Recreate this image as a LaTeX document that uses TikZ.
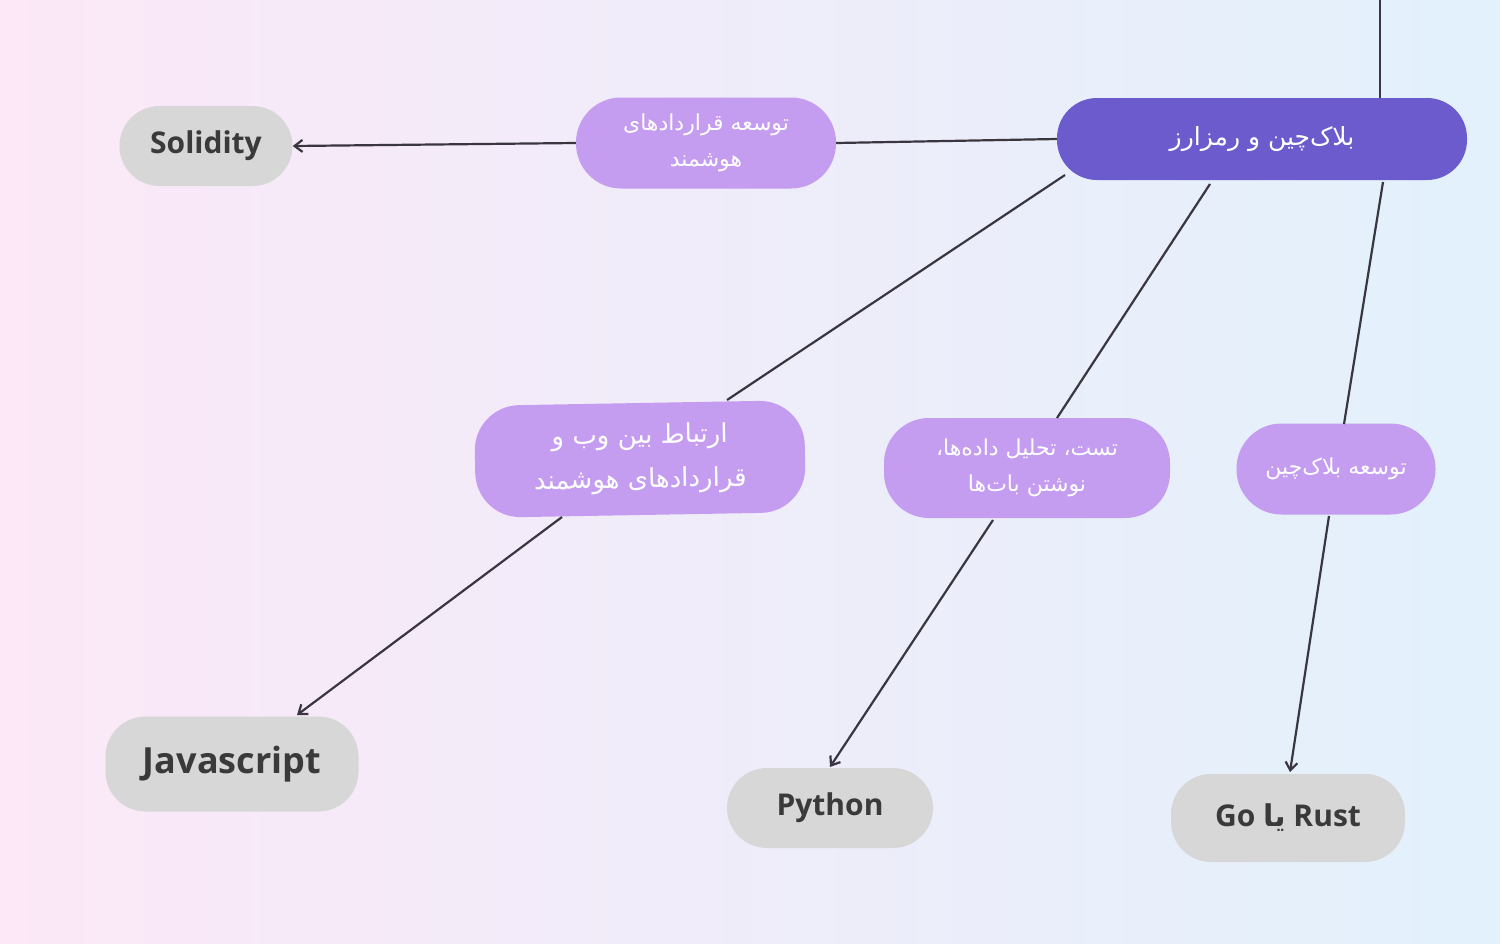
\documentclass[tikz,border=0pt]{standalone}
\usetikzlibrary{arrows.meta}
\usepackage{fontspec}
\TeXXeTstate=1
\newfontfamily\arabicfont[Script=Arabic]{DejaVu Sans}
\newfontfamily\latinfont{Open Sans}
\definecolor{mainp}{HTML}{6B5BCC}
\definecolor{lightp}{HTML}{C49CF0}
\definecolor{grayb}{HTML}{D7D7D7}
\definecolor{txt}{HTML}{3A3A3A}
\definecolor{ln}{HTML}{3A3640}
\definecolor{bgl}{HTML}{FCE8F7}
\definecolor{bgr}{HTML}{E2F1FC}
\begin{document}
\begin{tikzpicture}[x=1pt,y=-1pt,
  pill/.style={rounded corners=#1, inner sep=0pt, align=center},
  mainbox/.style={pill=40pt, fill=mainp, text=white, minimum width=410pt, minimum height=82pt, font=\arabicfont\fontsize{25}{30}\selectfont},
  subbox/.style={pill=45pt, fill=lightp, text=white, font=\arabicfont\fontsize{22}{36}\selectfont},
  langbox/.style={pill=40pt, fill=grayb, text=txt, font=\latinfont\bfseries\fontsize{30}{36}\selectfont},
  conn/.style={draw=ln, line width=2.2pt},
  arr/.style={conn, -{Straight Barb[length=8pt,width=12pt]}}]
\shade[left color=bgl, right color=bgr] (0,0) rectangle (1500,943);
\useasboundingbox (0,0) rectangle (1500,943);
\node[mainbox] (main) at (1262,139) {\beginR بلاک‌چین و رمزارز\endR};
\node[subbox, minimum width=260pt, minimum height=91pt] (smart) at (706,143) {\beginR توسعه قراردادهای\endR\\\beginR هوشمند\endR};
\node[langbox, minimum width=173pt, minimum height=80pt] (sol) at (206,146) {Solidity};
\node[subbox, minimum width=330pt, minimum height=112pt, font=\arabicfont\fontsize{26}{44}\selectfont, rotate=1] (web) at (640,459) {\beginR ارتباط بین وب و\endR\\\beginR قراردادهای هوشمند\endR};
\node[subbox, minimum width=286pt, minimum height=100pt] (test) at (1027,468) {\beginR تست، تحلیل داده‌ها،\endR\\\beginR نوشتن بات‌ها\endR};
\node[subbox, minimum width=199pt, minimum height=91pt] (bdev) at (1336,469) {\beginR توسعه بلاک‌چین\endR};
\node[langbox, minimum width=253pt, minimum height=95pt, font=\latinfont\bfseries\fontsize{36}{40}\selectfont] (js) at (232,764) {Javascript};
\node[langbox, minimum width=206pt, minimum height=80pt] (py) at (830,808) {Python};
\node[langbox, minimum width=234pt, minimum height=88pt] (go) at (1288,818) {Go {\arabicfont\beginR یا\endR} Rust};
\coordinate (top) at (1380,0);
\draw[conn] (top) -- (main.north -| top);
\draw[conn] (main.west) -- (smart.east);
\draw[arr] (smart.west) -- (sol.east);
\draw[conn] (1065,175) -- (727,400);
\draw[arr] (562,517) -- (297,715);
\draw[conn] (1210,184) -- (1057,418);
\draw[arr] (993,520) -- (830,767);
\draw[conn] (1383,182) -- (1344,424);
\draw[arr] (1329,516) -- (1290,772);
\end{tikzpicture}
\end{document}
